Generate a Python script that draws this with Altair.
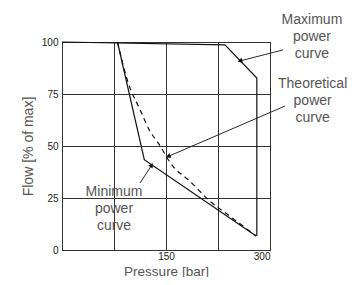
import altair as alt
import pandas as pd

# Curves (pressure in bar, flow in % of max)
max_p = [0, 235, 281, 281]
max_q = [100, 98.6, 82.7, 6.7]
min_p = [80, 118.7, 280]
min_q = [100, 43.4, 6.7]
theo_p = [80, 95.6, 112.5, 126.9, 138.9, 158.2, 184.6, 213.5, 242.3, 280]
theo_q = [100, 80.3, 67.5, 57.1, 51.4, 41.0, 33.0, 23.4, 16.2, 6.7]

# Annotations (position of first text line)
ann_text = ["Maximum\npower\ncurve", "Theoretical\npower\ncurve", "Minimum\npower\ncurve"]
ann_x = [360.5, 361.5, 75]
ann_y = [110.5, 80.0, 28.0]
# arrow leader lines: start (text side) -> tip (on curve)
arr_x0 = [318.8, 321.6, 112.5]
arr_y0 = [96.2, 69.2, 32.2]
arr_x1 = [256.7, 153.3, 129.4]
arr_y1 = [90.9, 45.0, 40.8]
arr_angle = [165.6, 156.9, 305.0]

x_ticks = [0, 75, 150, 225, 300]
y_ticks = [0, 25, 50, 75, 100]

rows = []
for p, q in zip(max_p, max_q):
    rows.append({"series": "max", "p": p, "q": q})
for p, q in zip(min_p, min_q):
    rows.append({"series": "min", "p": p, "q": q})
curves = pd.DataFrame(rows)
curves["i"] = range(len(curves))
theo = pd.DataFrame({"p": theo_p, "q": theo_q})
theo["i"] = range(len(theo))
ann = pd.DataFrame({"t": ann_text, "x": ann_x, "y": ann_y})
arr = pd.DataFrame({"x0": arr_x0, "y0": arr_y0, "x1": arr_x1, "y1": arr_y1, "a": arr_angle})

xs = alt.Scale(domain=[0, 300], nice=False)
ys = alt.Scale(domain=[0, 100], nice=False)

x_axis = alt.Axis(values=x_ticks, title="Pressure [bar]", grid=True,
                  labelExpr="datum.value == 150 || datum.value == 300 ? datum.label : ''",
                  ticks=False, domain=False, labelPadding=1, labelFontSize=10,
                  labelColor="#222", labelFont="Liberation Sans",
                  titleFontSize=13.5, titleFontWeight="normal", titleColor="#555",
                  titleFont="Liberation Sans", titleX=104, titleY=25,
                  titleBaseline="alphabetic", titleAlign="center")
y_axis = alt.Axis(values=y_ticks, title="Flow [% of max]", grid=True,
                  ticks=False, domain=False, labelPadding=4, labelFontSize=10,
                  labelColor="#222", labelFont="Liberation Sans",
                  titleFontSize=14, titleFontWeight="normal", titleColor="#555",
                  titleFont="Liberation Sans", titleX=-34, titleY=104,
                  titleAngle=-90, titleBaseline="middle", titleAlign="center")

base_lines = alt.Chart(curves).mark_line(color="#111", strokeWidth=1.2).encode(
    x=alt.X("p:Q", scale=xs, axis=x_axis),
    y=alt.Y("q:Q", scale=ys, axis=y_axis),
    detail="series:N",
    order="i:Q",
)

theo_line = alt.Chart(theo).mark_line(color="#111", strokeWidth=1.2, strokeDash=[5, 4],
                                      interpolate="monotone").encode(
    x=alt.X("p:Q", scale=xs),
    y=alt.Y("q:Q", scale=ys),
    order="i:Q",
)

leaders = alt.Chart(arr).mark_rule(color="#111", strokeWidth=0.9).encode(
    x=alt.X("x0:Q", scale=xs), y=alt.Y("y0:Q", scale=ys),
    x2="x1:Q", y2="y1:Q",
)

heads = alt.Chart(arr).mark_point(shape="triangle-right", filled=True, color="#111",
                                  size=28, opacity=1).encode(
    x=alt.X("x1:Q", scale=xs), y=alt.Y("y1:Q", scale=ys),
    angle=alt.Angle("a:Q", scale=None),
)

labels = alt.Chart(ann).mark_text(fontSize=14, color="#555", font="Liberation Sans",
                                  lineBreak="\n", lineHeight=17, align="center",
                                  baseline="middle").encode(
    x=alt.X("x:Q", scale=xs), y=alt.Y("y:Q", scale=ys), text="t:N",
)

chart = alt.layer(base_lines, theo_line, leaders, heads, labels).properties(
    width=208, height=208,
    autosize=alt.AutoSizeParams(type="none"),
    padding={"left": 54, "top": 34, "right": 79, "bottom": 27},
    background="white",
).configure_view(stroke="#111", strokeWidth=1).configure_axis(
    gridColor="#333", gridWidth=1, gridOpacity=1
)

chart.save("out.html", embed_options={"renderer": "svg", "actions": False})
